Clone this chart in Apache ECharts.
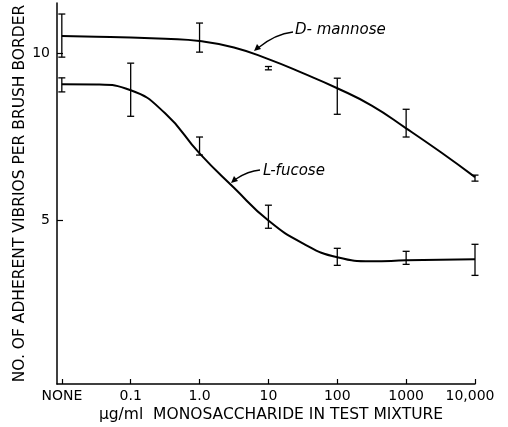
<!DOCTYPE html>
<html>
<head>
<meta charset="utf-8">
<script src="https://cdn.jsdelivr.net/npm/echarts@6/dist/echarts.min.js"></script>
<style>html,body{margin:0;padding:0;background:#fff}#c{width:508px;height:427px}</style>
</head>
<body>
<div id="c"></div>
<script>
// x positions are log10 of concentration; "NONE" is placed at -2
var tickPos = [-2, -1, 0, 1, 2, 3, 4];
var tickLabels = ['NONE', '0.1', '1.0', '10', '100', '1000', '10,000'];
var yTicks = [5, 10];

// Error bars: x, low, high
var mannoseX    = [-2, 0, 1, 2, 3, 4];
var mannoseLow  = [9.88, 10.03, 9.50, 8.17, 7.49, 6.17];
var mannoseHigh = [11.17, 10.90, 9.60, 9.25, 8.32, 6.35];

var fucoseX    = [-2, -1, 0, 1, 2, 3, 4];
var fucoseLow  = [8.84, 8.11, 6.95, 4.76, 3.65, 3.68, 3.35];
var fucoseHigh = [9.26, 9.70, 7.49, 5.45, 4.16, 4.07, 4.28];

// Hand-drawn fitted curves
var curveX        = [-2, -1.5, -1, -0.5, 0, 0.5, 1, 1.5, 2, 2.5, 3, 3.5, 4];
var mannoseCurveY = [10.51, 10.49, 10.47, 10.43, 10.36, 10.17, 9.82, 9.40, 8.95, 8.43, 7.75, 7.04, 6.29];
var fucoseCurveY  = [9.07, 9.06, 8.89, 8.20, 7.00, 5.97, 4.99, 4.31, 3.89, 3.77, 3.80, 3.82, 3.83];

function zip2(a, b) { return a.map(function (v, i) { return [v, b[i]]; }); }
function zip3(a, b, c) { return a.map(function (v, i) { return [v, b[i], c[i]]; }); }

function errRender(params, api) {
  var x = api.value(0), lo = api.value(1), hi = api.value(2);
  var t = api.coord([x, hi]), b = api.coord([x, lo]);
  var w = 3.5;
  var st = { stroke: '#000', lineWidth: 1.3 };
  return {
    type: 'group',
    children: [
      { type: 'line', shape: { x1: t[0], y1: t[1], x2: b[0], y2: b[1] }, style: st },
      { type: 'line', shape: { x1: t[0] - w, y1: t[1], x2: t[0] + w, y2: t[1] }, style: st },
      { type: 'line', shape: { x1: b[0] - w, y1: b[1], x2: b[0] + w, y2: b[1] }, style: st }
    ]
  };
}

var font = 'DejaVu Sans';
var chart = echarts.init(document.getElementById('c'), null, { renderer: 'canvas' });
chart.setOption({
  animation: false,
  backgroundColor: '#fff',
  grid: { left: 57, right: 33, top: 3, bottom: 43, containLabel: false, outerBoundsMode: 'none' },
  xAxis: {
    type: 'value', min: -2.07, max: 4,
    splitLine: { show: false },
    axisLine: { onZero: false, lineStyle: { color: '#000', width: 1.5 } },
    axisTick: { inside: true, length: 5, customValues: tickPos, lineStyle: { color: '#000', width: 1.2 } },
    axisLabel: {
      customValues: tickPos, margin: 5, color: '#000', fontFamily: font, fontSize: 14,
      formatter: function (v) {
        var i = tickPos.indexOf(Math.round(v));
        if (i < 0) return '';
        return i === tickPos.length - 1 ? '{r|' + tickLabels[i] + '}' : tickLabels[i];
      },
      rich: { r: { fontFamily: font, fontSize: 14, color: '#000', padding: [0, 10, 0, 0] } }
    },
    name: 'μg/ml  MONOSACCHARIDE IN TEST MIXTURE',
    nameLocation: 'middle', nameGap: 23, nameMoveOverlap: false,
    nameTextStyle: { color: '#000', fontFamily: font, fontSize: 15.5, padding: [0, 0, 0, 10] }
  },
  yAxis: {
    type: 'value', min: 0.1, max: 11.5,
    splitLine: { show: false },
    axisLine: { onZero: false, lineStyle: { color: '#000', width: 1.5 } },
    axisTick: { inside: true, length: 6, customValues: yTicks, lineStyle: { color: '#000', width: 1.2 } },
    axisLabel: { customValues: yTicks, margin: 7, color: '#000', fontFamily: font, fontSize: 14 },
    name: 'NO. OF ADHERENT VIBRIOS PER BRUSH BORDER',
    nameLocation: 'middle', nameGap: 29, nameMoveOverlap: false,
    nameTextStyle: { color: '#000', fontFamily: font, fontSize: 15.5 }
  },
  series: [
    { type: 'line', data: zip2(curveX, mannoseCurveY), smooth: 0.5, showSymbol: false,
      lineStyle: { color: '#000', width: 2 }, silent: true },
    { type: 'line', data: zip2(curveX, fucoseCurveY), smooth: 0.5, showSymbol: false,
      lineStyle: { color: '#000', width: 2 }, silent: true },
    { type: 'custom', renderItem: errRender, data: zip3(mannoseX, mannoseLow, mannoseHigh), silent: true },
    { type: 'custom', renderItem: errRender, data: zip3(fucoseX, fucoseLow, fucoseHigh), silent: true }
  ],
  graphic: [
    { type: 'text', left: 295, top: 23, style: { text: 'D- mannose', font: 'oblique 15px "DejaVu Sans"', fill: '#000' } },
    { type: 'bezierCurve', shape: { x1: 293, y1: 32, cpx1: 275, cpy1: 34, x2: 258, y2: 48 }, style: { stroke: '#000', lineWidth: 1.3, fill: null } },
    { type: 'polygon', shape: { points: [[254, 51], [257, 44], [261, 49]] }, style: { fill: '#000' } },
    { type: 'text', left: 263, top: 164, style: { text: 'L-fucose', font: 'oblique 15px "DejaVu Sans"', fill: '#000' } },
    { type: 'bezierCurve', shape: { x1: 260, y1: 170, cpx1: 248, cpy1: 171, x2: 236, y2: 179 }, style: { stroke: '#000', lineWidth: 1.3, fill: null } },
    { type: 'polygon', shape: { points: [[231, 183], [234, 176], [238, 181]] }, style: { fill: '#000' } }
  ]
});
</script>
</body>
</html>
